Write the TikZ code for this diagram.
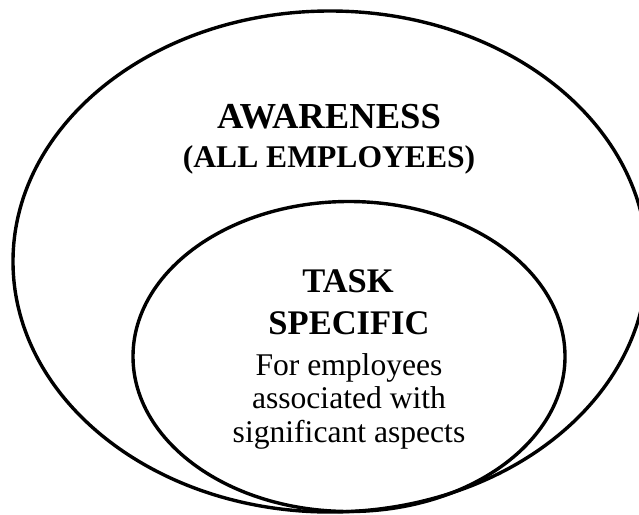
\documentclass[tikz,border=0pt]{standalone}
\usepackage{fontspec}
\setmainfont{Liberation Serif}
\begin{document}
\begin{tikzpicture}[x=1pt,y=-1pt,
  ring/.style={draw=black,line width=3.4pt},
  headtxt/.style={anchor=base,inner sep=0pt,font=\fontsize{36.6}{40}\selectfont\bfseries},
  subtxt/.style={anchor=base,inner sep=0pt,font=\fontsize{31.6}{36}\selectfont\bfseries},
  tasktxt/.style={anchor=base,inner sep=0pt,font=\fontsize{34.5}{40}\selectfont\bfseries},
  bodytxt/.style={anchor=base,inner sep=0pt,font=\fontsize{31.6}{36}\selectfont}]
\useasboundingbox (0,0) rectangle (639,514);
\begin{scope}
\clip (0,0) rectangle (639,514);
\draw[ring] (330,261.5) ellipse [x radius=317, y radius=250.5];
\draw[ring] (349,356.5) ellipse [x radius=216, y radius=155];
\end{scope}
\node[headtxt] (aw) at (329,128) {AWARENESS};
\node[subtxt] (all) at (329,167) {(ALL EMPLOYEES)};
\node[tasktxt] (task) at (348,292) {TASK};
\node[tasktxt] (spec) at (349,334) {SPECIFIC};
\node[bodytxt] (l1) at (349,375) {For employees};
\node[bodytxt] (l2) at (349,408.5) {associated with};
\node[bodytxt] (l3) at (349,442) {significant aspects};
\end{tikzpicture}
\end{document}
